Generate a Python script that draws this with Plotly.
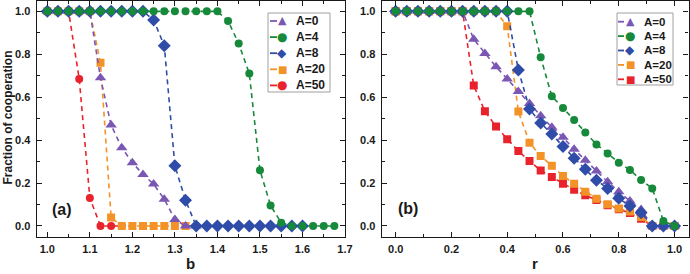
import plotly.graph_objects as go

# ---------------- data ----------------
b_grid = [round(1.0 + 0.025 * i, 3) for i in range(28)]   # 1.000 ... 1.675
r_grid = [round(0.04 * i, 2) for i in range(26)]           # 0.00 ... 1.00

series_names = ["A=0", "A=4", "A=8", "A=20", "A=50"]

# panel (a): fraction of cooperation vs b
a_A0 = [1.0, 1.0, 1.0, 1.0, 1.0, 0.69, 0.47, 0.365, 0.295, 0.24, 0.195, 0.125, 0.03, 0.0, 0.0]
a_A4 = [1.0] * 17 + [0.955, 0.85, 0.71, 0.26, 0.095, 0.015, 0.0, 0.0, 0.0, 0.0, 0.0]
a_A8 = [1.0] * 10 + [0.96, 0.84, 0.28, 0.12] + [0.0] * 11
a_A20 = [1.0] * 5 + [0.76, 0.04] + [0.0] * 7
a_A50 = [1.0, 1.0, 1.0, 0.685, 0.13, 0.0, 0.0, 0.0]

# panel (b): fraction of cooperation vs r
b_A0 = [1.0] * 7 + [0.87, 0.804, 0.742, 0.685, 0.627, 0.571, 0.514, 0.46, 0.413, 0.357,
                    0.306, 0.256, 0.206, 0.16, 0.116, 0.077, 0.0, 0.0, 0.0]
b_A4 = [1.0] * 13 + [0.786, 0.604, 0.55, 0.494, 0.436, 0.38, 0.338, 0.295, 0.261, 0.214,
                     0.175, 0.023, 0.0]
b_A8 = [1.0] * 11 + [0.727, 0.545, 0.48, 0.429, 0.37, 0.315, 0.264, 0.213, 0.175, 0.129,
                     0.093, 0.062, 0.0, 0.0, 0.0]
b_A20 = [1.0] * 10 + [0.93, 0.533, 0.388, 0.326, 0.28, 0.233, 0.197, 0.16, 0.127, 0.101,
                      0.081, 0.067, 0.042, 0.0, 0.0, 0.0]
b_A50 = [1.0] * 7 + [0.654, 0.534, 0.463, 0.404, 0.349, 0.303, 0.259, 0.228, 0.197, 0.169,
                     0.143, 0.121, 0.097, 0.078, 0.06, 0.034, 0.0, 0.0, 0.0]

ytick_vals = [0.0, 0.2, 0.4, 0.6, 0.8, 1.0]
ytick_text = ["0.0", "0.2", "0.4", "0.6", "0.8", "1.0"]
xa_tick_vals = [1.0, 1.1, 1.2, 1.3, 1.4, 1.5, 1.6, 1.7]
xa_tick_text = ["1.0", "1.1", "1.2", "1.3", "1.4", "1.5", "1.6", "1.7"]
xb_tick_vals = [0.0, 0.2, 0.4, 0.6, 0.8, 1.0]
xb_tick_text = ["0.0", "0.2", "0.4", "0.6", "0.8", "1.0"]

# ---------------- styles ----------------
colors = {"A=0": "#7B57B4", "A=4": "#17893A", "A=8": "#2F4DA8", "A=20": "#F39226", "A=50": "#E8232B"}
symbols_a = {"A=0": "triangle-up", "A=4": "circle", "A=8": "diamond", "A=20": "square", "A=50": "circle"}
symbols_b = {"A=0": "triangle-up", "A=4": "circle", "A=8": "diamond", "A=20": "square", "A=50": "square"}
glyphs_a = {"A=0": "▲", "A=4": "●", "A=8": "◆", "A=20": "■", "A=50": "●"}
glyphs_b = {"A=0": "▲", "A=4": "●", "A=8": "◆", "A=20": "■", "A=50": "■"}
glyph_size = {"▲": 11, "●": 12, "◆": 12, "■": 10}
sizes = {"A=0": 10, "A=4": 8, "A=8": 10, "A=20": 8, "A=50": 8}

FONT = "Liberation Sans, Arial, sans-serif"
GFONT = "DejaVu Sans"
INK = "#1a1a1a"

fig = go.Figure()

data_a = {"A=0": a_A0, "A=4": a_A4, "A=8": a_A8, "A=20": a_A20, "A=50": a_A50}
data_b = {"A=0": b_A0, "A=4": b_A4, "A=8": b_A8, "A=20": b_A20, "A=50": b_A50}
draw_order = ["A=50", "A=20", "A=0", "A=8", "A=4"]

for name in draw_order:
    ys = data_a[name]
    fig.add_trace(go.Scatter(
        x=b_grid[:len(ys)], y=ys, name=name, mode="lines+markers", showlegend=False,
        line=dict(color=colors[name], width=1.6, dash="5px,4px"),
        marker=dict(symbol=symbols_a[name], size=sizes[name], color=colors[name]),
        xaxis="x", yaxis="y",
    ))
for name in draw_order:
    ys = data_b[name]
    fig.add_trace(go.Scatter(
        x=r_grid[:len(ys)], y=ys, name=name, mode="lines+markers", showlegend=False,
        line=dict(color=colors[name], width=1.6, dash="5px,4px"),
        marker=dict(symbol=symbols_b[name], size=sizes[name], color=colors[name]),
        xaxis="x2", yaxis="y2",
    ))

W, H = 690, 274
ydom = [1 - 236.7 / H, 1 - 0.6 / H]

axis_common = dict(
    showline=True, linecolor=INK, linewidth=1.3, mirror="ticks",
    ticks="inside", ticklen=5, tickwidth=1.2, tickcolor=INK,
    showgrid=False, zeroline=False, automargin=False,
    tickfont=dict(family=FONT, size=11, color=INK, weight="bold"),
)
minor_common = dict(ticks="inside", ticklen=3, tickcolor=INK, tickwidth=1.1)

fig.update_layout(
    width=W, height=H,
    margin=dict(l=0, r=0, t=0, b=0, autoexpand=False),
    paper_bgcolor="white", plot_bgcolor="white",
    showlegend=False,
    xaxis=dict(domain=[36.7 / W, 345 / W], range=[0.975, 1.7],
               tickvals=xa_tick_vals, ticktext=xa_tick_text,
               minor=dict(dtick=0.05, tick0=1.0, **minor_common),
               anchor="y", ticklabelstandoff=2, **axis_common),
    yaxis=dict(domain=ydom, range=[-0.05, 1.05],
               tickvals=ytick_vals, ticktext=ytick_text,
               minor=dict(dtick=0.1, tick0=0.0, **minor_common),
               anchor="x", ticklabelstandoff=3, **axis_common),
    xaxis2=dict(domain=[381.7 / W, 688.5 / W], range=[-0.05, 1.05],
                tickvals=xb_tick_vals, ticktext=xb_tick_text,
                minor=dict(dtick=0.1, tick0=0.0, **minor_common),
                anchor="y2", ticklabelstandoff=2, **axis_common),
    yaxis2=dict(domain=ydom, range=[-0.05, 1.05],
                tickvals=ytick_vals, ticktext=ytick_text,
                minor=dict(dtick=0.1, tick0=0.0, **minor_common),
                anchor="x2", ticklabelstandoff=3, **axis_common),
)


def px_x(v):
    return v / W


def px_y(v):
    return 1 - v / H


# ---------------- custom legends (box, dash, glyph, label) ----------------
legend_specs = [
    # (glyph map, box [x0, y0, x1, y1] px, dash x0, dash x1, glyph x, text x, first row y, row step, font size)
    (glyphs_a, [268, 13, 330, 92], 270, 277, 282, 294, 21, 16.1, 12),
    (glyphs_b, [617, 13, 673, 85], 618, 624, 630, 642, 21.7, 14.4, 11.5),
]
for gmap, box, dx0, dx1, gx, tx, y0, step, fs in legend_specs:
    fig.add_shape(type="rect", xref="paper", yref="paper",
                  x0=px_x(box[0]), x1=px_x(box[2]), y0=px_y(box[3]), y1=px_y(box[1]),
                  line=dict(color="#a0a0a0", width=1), fillcolor="white", layer="above")
    for i, name in enumerate(series_names):
        yy = y0 + i * step
        fig.add_shape(type="line", xref="paper", yref="paper",
                      x0=px_x(dx0), x1=px_x(dx1), y0=px_y(yy), y1=px_y(yy),
                      line=dict(color=colors[name], width=1.8), layer="above")
        g = gmap[name]
        fig.add_annotation(text=g, x=px_x(gx), y=px_y(yy), xref="paper", yref="paper",
                           xanchor="center", yanchor="middle", showarrow=False,
                           font=dict(family=GFONT, size=glyph_size[g], color=colors[name]))
        fig.add_annotation(text=name, x=px_x(tx), y=px_y(yy), xref="paper", yref="paper",
                           xanchor="left", yanchor="middle", showarrow=False,
                           font=dict(family=FONT, size=fs, color=INK, weight="bold"))

ann_font = dict(family=FONT, color=INK, weight="bold")
fig.add_annotation(text="Fraction of cooperation", x=px_x(7.5), y=px_y(118), xref="paper", yref="paper",
                   xanchor="center", yanchor="middle",
                   textangle=-90, showarrow=False, font=dict(size=12, **ann_font))
fig.add_annotation(text="b", x=px_x(190), y=px_y(263), xref="paper", yref="paper",
                   xanchor="center", yanchor="middle",
                   showarrow=False, font=dict(size=15, **ann_font))
fig.add_annotation(text="r", x=px_x(535), y=px_y(263), xref="paper", yref="paper",
                   xanchor="center", yanchor="middle",
                   showarrow=False, font=dict(size=15, **ann_font))
fig.add_annotation(text="(a)", x=px_x(61.7), y=px_y(209), xref="paper", yref="paper",
                   xanchor="center", yanchor="middle",
                   showarrow=False, font=dict(size=16, **ann_font))
fig.add_annotation(text="(b)", x=px_x(408), y=px_y(208), xref="paper", yref="paper",
                   xanchor="center", yanchor="middle",
                   showarrow=False, font=dict(size=16, **ann_font))

fig.write_html("out.html",
               config={"displayModeBar": False},
               post_script="document.body.style.margin='0';document.body.style.overflow='hidden';")
